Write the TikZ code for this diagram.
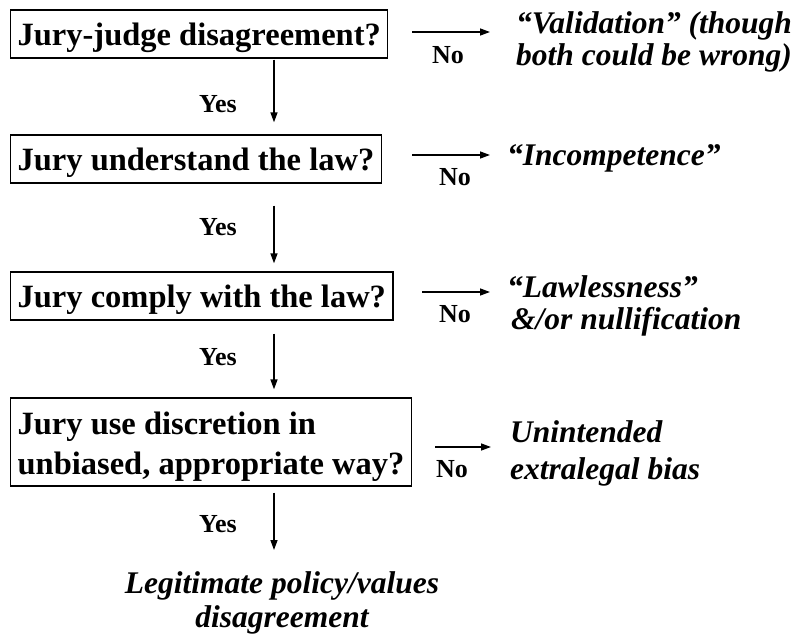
\documentclass[tikz,border=0pt]{standalone}
\usepackage{fontspec}
\setmainfont{Liberation Serif}
\usetikzlibrary{arrows.meta,calc}
\begin{document}
\begin{tikzpicture}[x=1pt,y=-1pt,
  box/.style={draw, line width=1.3pt, font=\fontsize{32.5}{40}\selectfont\bfseries,
    inner xsep=7pt, inner ysep=0pt, anchor=west},
  boxone/.style={box, minimum height=48pt, text height=23pt, text depth=0pt},
  res/.style={font=\fontsize{31.5}{32}\selectfont\bfseries\itshape, inner sep=0pt, anchor=base west},
  lab/.style={font=\fontsize{26}{30}\selectfont\bfseries, inner sep=0pt},
  arr/.style={line width=1.3pt, -{Triangle[length=10pt,width=7pt]}}]
\useasboundingbox (0,0) rectangle (796,637);
\coordinate (vx) at (274,0);
\coordinate (hxa) at (412,0);
\coordinate (hxb) at (490,0);
\coordinate (hxc) at (422,0);
\coordinate (hxd) at (435,0);
\coordinate (hxe) at (491,0);
% question boxes
\node[boxone] (b1) at (10,34) {Jury-judge disagreement?};
\node[boxone] (b2) at (10,159) {Jury understand the law?};
\node[boxone] (b3) at (10,296) {Jury comply with the law?};
\node[box, minimum height=88pt, text depth=44pt] (b4) at (10,442)
  {\begin{tabular}[t]{@{}l@{}}Jury use discretion in\\unbiased, appropriate way?\end{tabular}};
% outcomes
\node[res] (r1) at (516,34) {\begin{tabular}[t]{@{}l@{}}“Validation” (though\\both could be wrong)\end{tabular}};
\node[res] (r2) at (507,165) {“Incompetence”};
\node[res] (r3) at (507,297) {\begin{tabular}[t]{@{}l@{}}“Lawlessness”\\\hspace{4pt}\&/or nullification\end{tabular}};
\node[res, font=\fontsize{31.5}{37}\selectfont\bfseries\itshape] (r4) at (510,442)
  {\begin{tabular}[t]{@{}l@{}}Unintended\\extralegal bias\end{tabular}};
\node[res, anchor=base, font=\fontsize{31.5}{34}\selectfont\bfseries\itshape] (fin) at (282,593)
  {\begin{tabular}[t]{@{}c@{}}Legitimate policy/values\\disagreement\end{tabular}};
% yes labels
\node[lab, anchor=base east] (y1) at (237,112) {Yes};
\node[lab, anchor=base east] (y2) at (237,235) {Yes};
\node[lab, anchor=base east] (y3) at (237,365) {Yes};
\node[lab, anchor=base east] (y4) at (237,532) {Yes};
% no labels
\node[lab, anchor=base] (n1) at (448,63) {No};
\node[lab, anchor=base] (n2) at (455,185) {No};
\node[lab, anchor=base] (n3) at (455,322) {No};
\node[lab, anchor=base] (n4) at (452,477) {No};
% vertical arrows
\draw[arr] ($(b1.south -| vx)+(0,1)$) -- ($(b2.north -| vx)+(0,-12)$);
\draw[arr] ($(b2.south -| vx)+(0,22)$) -- ($(b3.north -| vx)+(0,-8)$);
\draw[arr] ($(b3.south -| vx)+(0,13)$) -- ($(b4.north -| vx)+(0,-8)$);
\draw[arr] ($(b4.south -| vx)+(0,6)$) -- ($(fin.north -| vx)+(0,-19)$);
% horizontal arrows
\draw[arr] ($(b1.west -| hxa)+(0,-2)$) -- ($(b1.west -| hxb)+(0,-2)$);
\draw[arr] ($(b2.west -| hxa)+(0,-4)$) -- ($(b2.west -| hxb)+(0,-4)$);
\draw[arr] ($(b3.west -| hxc)+(0,-4)$) -- ($(b3.west -| hxb)+(0,-4)$);
\draw[arr] ($(b4.west -| hxd)+(0,5)$) -- ($(b4.west -| hxe)+(0,5)$);
\end{tikzpicture}
\end{document}
